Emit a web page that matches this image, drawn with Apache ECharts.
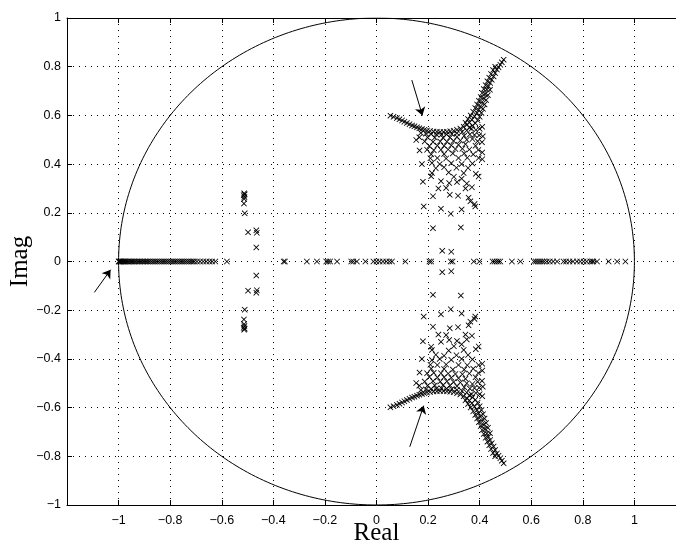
<!DOCTYPE html>
<html>
<head>
<meta charset="utf-8">
<script src="https://cdn.jsdelivr.net/npm/echarts@6/dist/echarts.min.js"></script>
<style>
html,body{margin:0;padding:0;background:#fff;overflow:hidden;}
#chart{width:700px;height:543px;}
</style>
</head>
<body>
<div id="chart"></div>
<script>
// ---- data ----
// poles/zeros lying on the real axis (imag = 0)
const realAxisPoints = [
  -1.000,-0.998,-0.995,-0.992,-0.990,-0.986,-0.982,-0.978,-0.974,-0.970,-0.965,-0.960,
  -0.955,-0.950,-0.945,-0.940,-0.934,-0.928,-0.922,-0.916,-0.910,-0.904,-0.898,-0.892,
  -0.886,-0.880,-0.873,-0.866,-0.859,-0.852,-0.845,-0.838,-0.831,-0.824,-0.817,-0.810,
  -0.803,-0.796,-0.789,-0.782,-0.775,-0.768,-0.761,-0.754,-0.747,-0.740,-0.733,-0.726,
  -0.719,-0.712,-0.706,-0.696,-0.684,-0.672,-0.660,-0.648,-0.637,-0.625,-0.580,
  -0.360,-0.355,-0.270,-0.231,-0.195,-0.188,-0.180,-0.153,-0.098,-0.090,-0.076,-0.043,
  -0.012,0.000,0.012,0.025,0.038,0.050,0.060,0.112,0.205,0.212,0.288,0.295,0.377,0.399,
  0.450,0.458,0.466,0.473,0.480,0.525,0.558,0.610,0.618,0.626,0.634,0.642,0.650,0.660,
  0.672,0.685,0.700,0.725,0.735,0.748,0.762,0.777,0.790,0.803,0.815,0.829,0.836,0.841,
  0.855,0.900,0.933,0.965
];
// left cluster, upper half [real, imag] (lower half = conjugates)
const leftClusterUpper = [
  [-0.513,0.280],[-0.511,0.276],[-0.515,0.272],[-0.512,0.265],[-0.513,0.257],
  [-0.514,0.238],[-0.511,0.198],[-0.498,0.120],[-0.466,0.128],[-0.464,0.118],[-0.466,0.058]
];
// right cluster, upper half [real, imag] (lower half = conjugates)
const rightClusterUpper = [
  // main curve
  [0.054,0.599],[0.066,0.594],[0.079,0.589],[0.089,0.584],[0.099,0.579],[0.108,0.574],
  [0.118,0.569],[0.128,0.564],[0.138,0.559],[0.147,0.555],[0.157,0.551],[0.166,0.547],
  [0.176,0.544],[0.186,0.541],[0.196,0.538],[0.208,0.536],[0.221,0.534],[0.234,0.533],
  [0.247,0.532],[0.260,0.532],[0.273,0.533],[0.286,0.535],[0.299,0.537],[0.312,0.541],
  [0.325,0.546],[0.338,0.553],[0.351,0.562],[0.360,0.571],[0.370,0.582],[0.380,0.596],
  [0.390,0.610],[0.396,0.623],[0.402,0.637],[0.408,0.654],[0.415,0.671],[0.421,0.688],
  [0.428,0.706],[0.434,0.720],[0.441,0.733],[0.447,0.746],[0.454,0.760],[0.460,0.774],
  [0.467,0.788],[0.473,0.798],[0.480,0.808],[0.486,0.818],[0.493,0.829],
  // thickness of rising branch
  [0.345,0.570],[0.355,0.585],[0.365,0.600],[0.375,0.615],[0.383,0.630],[0.390,0.645],
  [0.397,0.660],[0.404,0.676],[0.410,0.692],[0.416,0.708],[0.423,0.724],[0.430,0.740],
  [0.437,0.755],[0.444,0.770],[0.452,0.786],[0.460,0.800],
  [0.360,0.550],[0.372,0.558],[0.383,0.568],[0.392,0.580],[0.400,0.594],[0.407,0.610],
  [0.413,0.627],[0.419,0.645],[0.425,0.663],[0.432,0.683],[0.440,0.705],
  // band under the curve
  [0.172,0.528],[0.192,0.525],[0.212,0.523],[0.232,0.522],[0.252,0.521],[0.272,0.522],
  [0.292,0.524],[0.312,0.527],[0.332,0.532],[0.350,0.538],[0.368,0.545],[0.385,0.540],
  [0.400,0.545],[0.410,0.553],
  [0.166,0.510],[0.198,0.510],[0.226,0.509],[0.258,0.508],[0.285,0.509],[0.312,0.512],
  [0.340,0.516],[0.362,0.522],[0.380,0.520],[0.398,0.518],[0.412,0.514],
  // fan below
  [0.154,0.499],[0.187,0.493],[0.219,0.491],[0.247,0.493],[0.273,0.492],[0.299,0.495],
  [0.325,0.497],[0.350,0.500],[0.372,0.503],[0.392,0.494],[0.409,0.490],
  [0.205,0.474],[0.236,0.476],[0.262,0.475],[0.290,0.477],[0.318,0.479],[0.345,0.482],[0.384,0.475],
  [0.167,0.456],[0.196,0.459],[0.222,0.457],[0.250,0.459],[0.278,0.460],[0.306,0.462],
  [0.333,0.463],[0.360,0.460],[0.395,0.458],[0.410,0.448],
  [0.212,0.440],[0.262,0.441],[0.296,0.444],[0.340,0.444],[0.375,0.440],
  [0.209,0.424],[0.236,0.425],[0.270,0.423],[0.318,0.425],[0.352,0.426],[0.396,0.425],[0.410,0.420],
  [0.176,0.400],[0.215,0.405],[0.245,0.400],[0.290,0.404],[0.330,0.400],[0.372,0.402],
  [0.230,0.383],[0.262,0.387],[0.310,0.385],[0.355,0.384],
  [0.215,0.363],[0.280,0.366],[0.338,0.363],[0.385,0.360],
  [0.212,0.350],[0.300,0.348],[0.330,0.340],[0.396,0.349],
  [0.180,0.328],[0.250,0.330],[0.282,0.322],[0.312,0.326],[0.350,0.320],[0.370,0.305],
  [0.240,0.300],[0.270,0.302],[0.345,0.300],
  [0.219,0.268],[0.284,0.274],[0.316,0.270],[0.357,0.262],
  [0.364,0.247],[0.380,0.236],
  [0.183,0.226],[0.250,0.217],[0.330,0.214],[0.383,0.226],
  [0.288,0.196],
  [0.219,0.137],[0.327,0.140],
  [0.255,0.044],[0.290,0.040]
];
// annotation arrows [tailReal, tailImag, headReal, headImag]
const arrows = [
  [-1.094,-0.127,-1.031,-0.034],
  [0.137,0.745,0.178,0.600],
  [0.129,-0.761,0.183,-0.592]
];
// axis settings
const xRange = [-1.2, 1.2];
const yRange = [-1, 1];
const tickStep = 0.2;

// ---- build series data ----
const pointData = [];
realAxisPoints.forEach(v => pointData.push([v, 0]));
[leftClusterUpper, rightClusterUpper].forEach(arr => {
  arr.forEach(p => { pointData.push([p[0], p[1]]); pointData.push([p[0], -p[1]]); });
});
// unit circle |z| = 1
const circle = [];
for (let i = 0; i <= 360; i++) {
  const a = i * Math.PI / 180;
  circle.push([Math.cos(a), Math.sin(a)]);
}
const arrowData = arrows.map(a => [{coord: [a[0], a[1]]}, {coord: [a[2], a[3]]}]);

function fmt(v) {
  if (Math.abs(v) > 1.0001) return '';
  let s = String(+(+v).toFixed(1));
  if (s === '-0') s = '0';
  return s.replace('-', '\u2212');
}

const xMark = 'path://M0,1L1,0L5,4L9,0L10,1L6,5L10,9L9,10L5,6L1,10L0,9L4,5Z';
const lblFont = {fontFamily: 'Liberation Sans, Arial, sans-serif', fontSize: 12.5, color: '#000'};
const gridLine = {show: true, lineStyle: {color: '#000', width: 1, type: [1, 5]}};
const tickIn = {show: true, inside: true, length: 5, lineStyle: {color: '#000', width: 1}};
const axLine = {show: true, onZero: false, lineStyle: {color: '#000', width: 1}};

const chart = echarts.init(document.getElementById('chart'), null, {renderer: 'canvas'});
chart.setOption({
  animation: false,
  backgroundColor: '#fff',
  grid: {left: 67, top: 18, width: 619, height: 487, containLabel: false, outerBoundsMode: 'none'},
  xAxis: [
    {type: 'value', min: xRange[0], max: xRange[1], interval: tickStep, position: 'bottom',
     axisLine: axLine, axisTick: tickIn, splitLine: gridLine,
     axisLabel: Object.assign({margin: 9, formatter: fmt}, lblFont),
     name: 'Real', nameLocation: 'middle', nameGap: 16, nameMoveOverlap: false,
     nameTextStyle: {fontFamily: 'Liberation Serif, Times New Roman, serif', fontSize: 25, color: '#000', verticalAlign: 'top'}},
    {type: 'value', min: xRange[0], max: xRange[1], interval: tickStep, position: 'top',
     axisLine: axLine, axisTick: tickIn, splitLine: {show: false}, axisLabel: {show: false}}
  ],
  yAxis: [
    {type: 'value', min: yRange[0], max: yRange[1], interval: tickStep, position: 'left',
     axisLine: axLine, axisTick: tickIn, splitLine: gridLine,
     axisLabel: Object.assign({margin: 6, formatter: fmt}, lblFont),
     name: 'Imag', nameLocation: 'middle', nameGap: 34, nameRotate: 90, nameMoveOverlap: false,
     nameTextStyle: {fontFamily: 'Liberation Serif, Times New Roman, serif', fontSize: 25, color: '#000'}},
    {type: 'value', min: yRange[0], max: yRange[1], interval: tickStep, position: 'right',
     axisLine: axLine, axisTick: tickIn, splitLine: {show: false}, axisLabel: {show: false}}
  ],
  series: [
    {type: 'line', data: circle, showSymbol: false, symbol: 'none', smooth: false,
     lineStyle: {color: '#000', width: 1}, silent: true, z: 2},
    {type: 'scatter', data: pointData, symbol: xMark, symbolSize: 6,
     itemStyle: {color: '#000', opacity: 1}, silent: true, z: 3},
    {type: 'line', data: [], silent: true, z: 4,
     markLine: {silent: true, symbol: ['none', 'arrow'], symbolSize: 8, animation: false,
       label: {show: false}, lineStyle: {color: '#000', width: 1, type: 'solid'},
       emphasis: {disabled: true}, data: arrowData}}
  ]
});
</script>
</body>
</html>
